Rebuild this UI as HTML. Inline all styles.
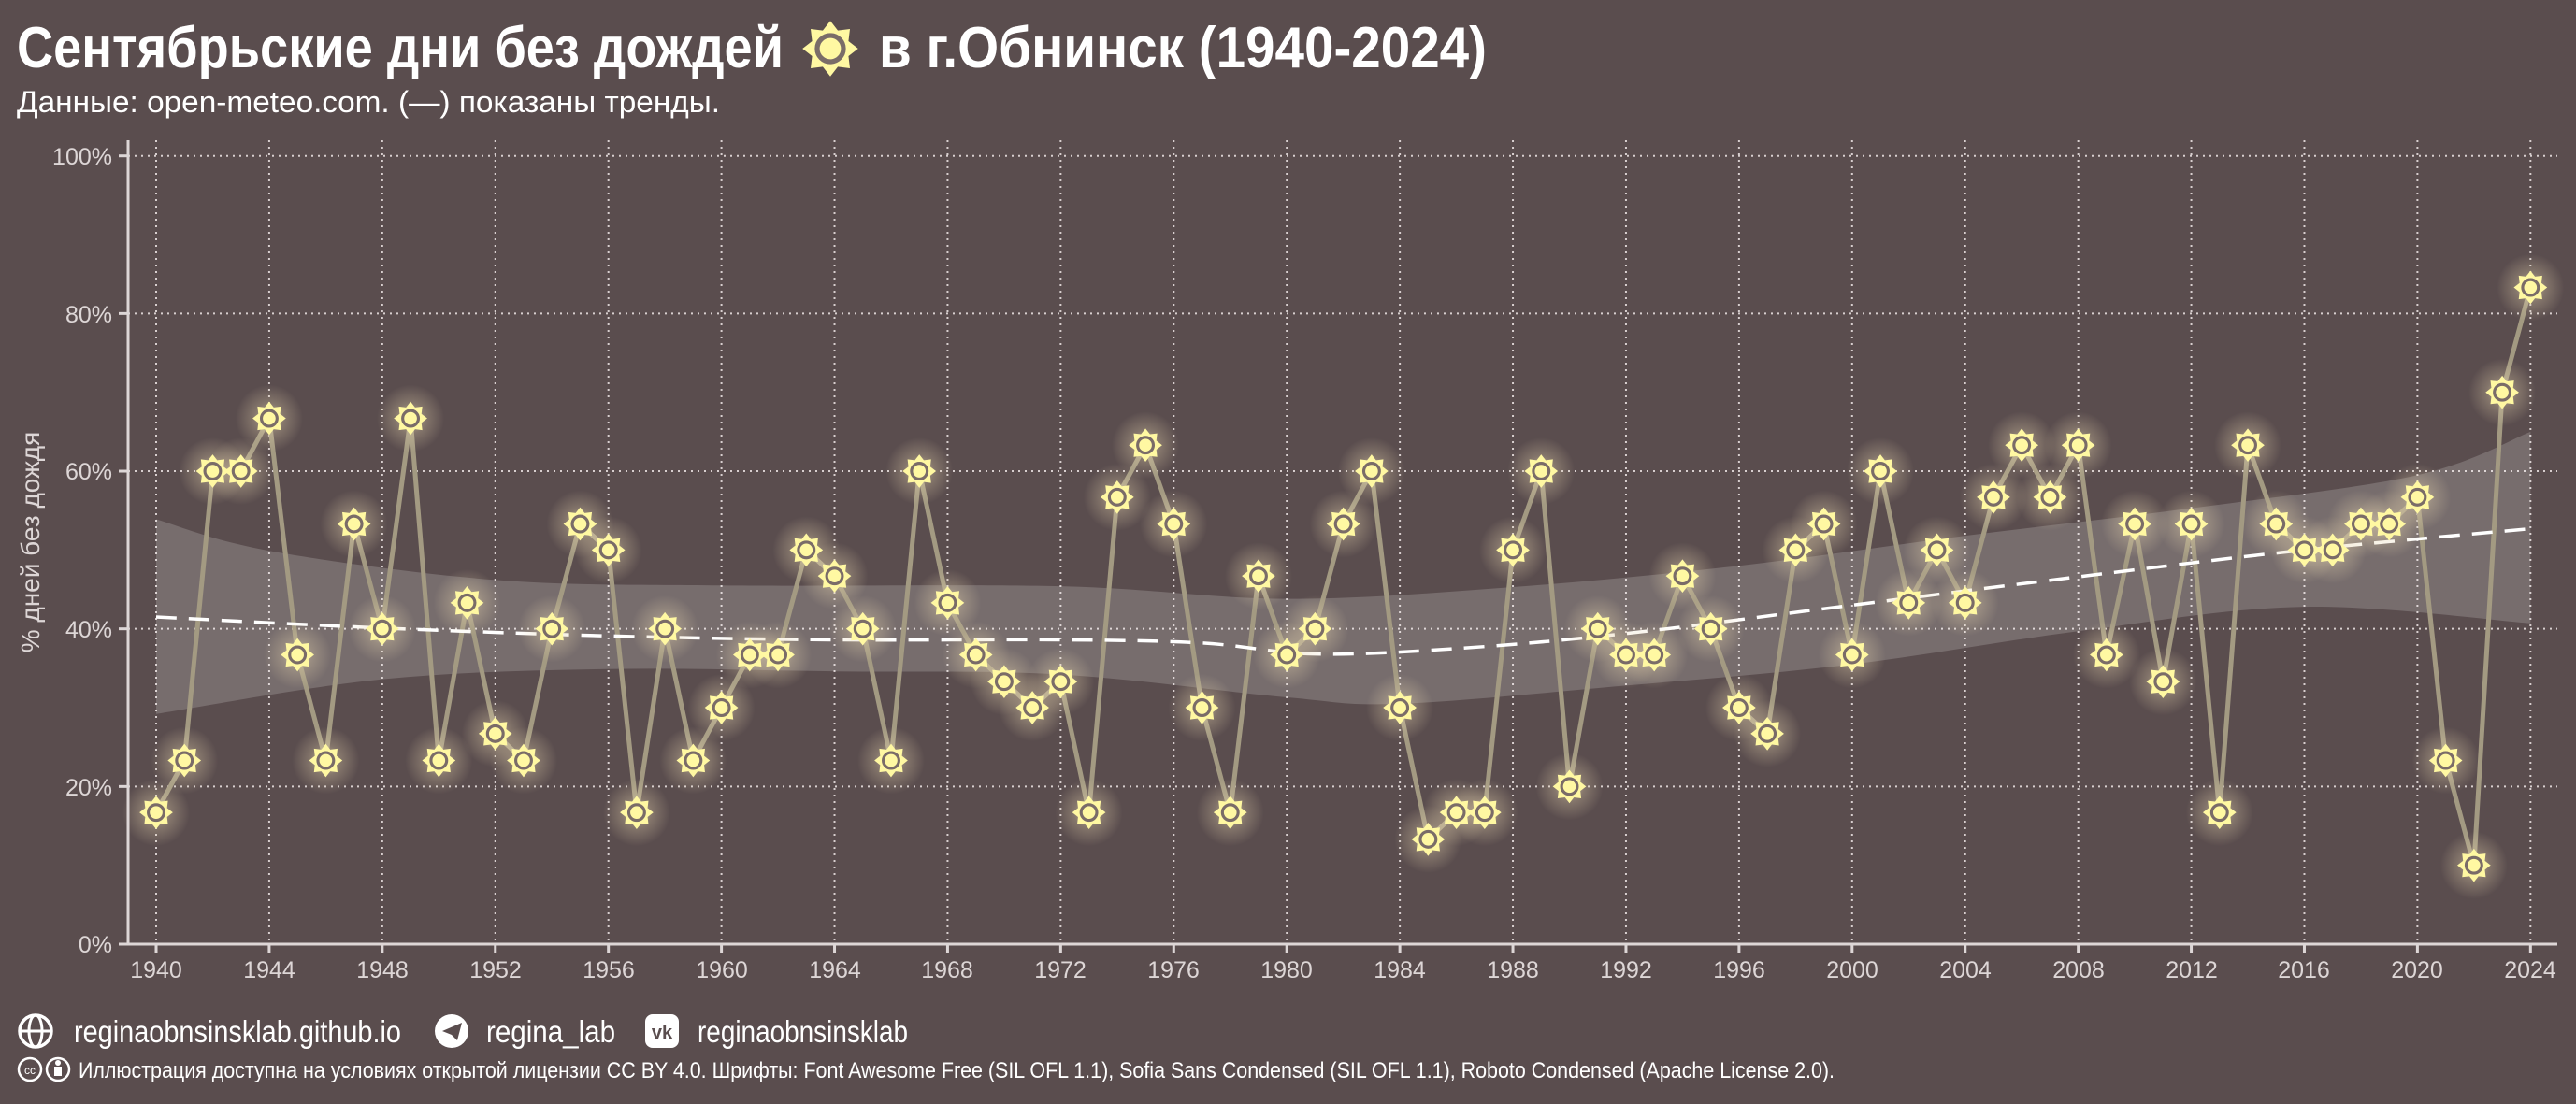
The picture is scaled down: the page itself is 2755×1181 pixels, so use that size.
<!DOCTYPE html>
<html><head><meta charset="utf-8"><style>
html,body{margin:0;padding:0;background:#5a4d4e;}
svg{display:block}
text{font-family:"Liberation Sans Narrow","Liberation Sans","Noto Sans CJK SC",sans-serif;}
</style></head><body>
<svg id="s" width="2755" height="1181" viewBox="0 0 2755 1181" xmlns="http://www.w3.org/2000/svg">
<defs>
<radialGradient id="glow"><stop offset="0" stop-color="#fff3c8" stop-opacity="0.7"/><stop offset="0.45" stop-color="#e8d6b0" stop-opacity="0.3"/><stop offset="1" stop-color="#e8d6b0" stop-opacity="0"/></radialGradient>
<g id="sun"><polygon points="0,-17 4.6,-11.1 12,-12 11.1,-4.6 17,0 11.1,4.6 12,12 4.6,11.1 0,17 -4.6,11.1 -12,12 -11.1,4.6 -17,0 -11.1,-4.6 -12,-12 -4.6,-11.1" fill="#fff8a2"/><circle r="8" fill="#fff8a2" stroke="#7a6c68" stroke-width="3"/></g>
</defs>
<rect width="2755" height="1181" fill="#5a4d4e"/>
<g id="grid"></g>
<g id="band"></g>
<g id="series"></g>
<line x1="137" y1="150" x2="137" y2="1010" stroke="#ddd6d6" stroke-width="3"/>
<line x1="137" y1="1010" x2="2735" y2="1010" stroke="#ddd6d6" stroke-width="3"/>
<g font-size="25" fill="#ddd6d6" text-anchor="end">
<text x="120" y="176">100%</text><text x="120" y="345">80%</text><text x="120" y="513">60%</text><text x="120" y="682">40%</text><text x="120" y="851">20%</text><text x="120" y="1019">0%</text>
</g>
<g font-size="25" fill="#ddd6d6" text-anchor="middle">
<text x="167" y="1046">1940</text><text x="288" y="1046">1944</text><text x="409" y="1046">1948</text><text x="530" y="1046">1952</text><text x="651" y="1046">1956</text><text x="772" y="1046">1960</text><text x="893" y="1046">1964</text><text x="1013" y="1046">1968</text><text x="1134" y="1046">1972</text><text x="1255" y="1046">1976</text><text x="1376" y="1046">1980</text><text x="1497" y="1046">1984</text><text x="1618" y="1046">1988</text><text x="1739" y="1046">1992</text><text x="1860" y="1046">1996</text><text x="1981" y="1046">2000</text><text x="2102" y="1046">2004</text><text x="2223" y="1046">2008</text><text x="2344" y="1046">2012</text><text x="2464" y="1046">2016</text><text x="2585" y="1046">2020</text><text x="2706" y="1046">2024</text>
</g>
<text transform="translate(42,580) rotate(-90)" font-size="28" fill="#ddd6d6" text-anchor="middle">% дней без дождя</text>
<text x="18" y="72" font-size="62" font-weight="bold" fill="#ffffff" textLength="820" lengthAdjust="spacingAndGlyphs">Сентябрьские дни без дождей</text>
<use href="#sun" transform="translate(888,52) scale(1.75)"/>
<text x="940" y="72" font-size="62" font-weight="bold" fill="#ffffff" textLength="650" lengthAdjust="spacingAndGlyphs">в г.Обнинск (1940-2024)</text>
<text x="18" y="120" font-size="32" fill="#ffffff" textLength="752" lengthAdjust="spacingAndGlyphs">Данные: open-meteo.com. (—) показаны тренды.</text>
<g fill="#ffffff">
<circle cx="38" cy="1103" r="17" fill="none" stroke="#fff" stroke-width="3.5"/>
<ellipse cx="38" cy="1103" rx="7" ry="17" fill="none" stroke="#fff" stroke-width="3"/>
<line x1="21" y1="1103" x2="55" y2="1103" stroke="#fff" stroke-width="3"/>
<text x="79" y="1115" font-size="33" textLength="350" lengthAdjust="spacingAndGlyphs">reginaobnsinsklab.github.io</text>
<circle cx="483" cy="1103" r="18"/>
<polygon points="473,1103 494,1094 489,1113 483,1107" fill="#5a4d4e"/>
<text x="520" y="1115" font-size="33" textLength="138" lengthAdjust="spacingAndGlyphs">regina_lab</text>
<rect x="690" y="1085" width="36" height="36" rx="8"/>
<text x="708" y="1111" font-size="20" font-weight="bold" fill="#5a4d4e" text-anchor="middle">vk</text>
<text x="746" y="1115" font-size="33" textLength="225" lengthAdjust="spacingAndGlyphs">reginaobnsinsklab</text>
<circle cx="32" cy="1144" r="12" fill="none" stroke="#fff" stroke-width="2.5"/>
<text x="32" y="1149" font-size="12" text-anchor="middle">cc</text>
<circle cx="62" cy="1144" r="12" fill="none" stroke="#fff" stroke-width="2.5"/>
<circle cx="62" cy="1137" r="3"/><rect x="58" y="1141" width="8" height="10"/>
<text x="84" y="1153" font-size="24" textLength="1878" lengthAdjust="spacingAndGlyphs">Иллюстрация доступна на условиях открытой лицензии CC BY 4.0.  Шрифты: Font Awesome Free (SIL OFL 1.1), Sofia Sans Condensed (SIL OFL 1.1), Roboto Condensed (Apache License 2.0).</text>
</g>
</svg>
<script>
(function(){
var NS="http://www.w3.org/2000/svg";
function X(yr){return 167+(yr-1940)*30.23;}
function Y(v){return 1010-v*8.433;}
function el(p,n,a){var e=document.createElementNS(NS,n);for(var k in a)e.setAttribute(k,a[k]);p.appendChild(e);return e;}
var grid=document.getElementById('grid');
for(var v=20;v<=100;v+=20)el(grid,'line',{x1:137,x2:2735,y1:Y(v),y2:Y(v),stroke:'#d8cfcf','stroke-width':2,'stroke-dasharray':'2 5'});
for(var yr=1940;yr<=2024;yr+=4){el(grid,'line',{x1:X(yr),x2:X(yr),y1:150,y2:1010,stroke:'#d8cfcf','stroke-width':2,'stroke-dasharray':'2 5'});el(grid,'line',{x1:X(yr),x2:X(yr),y1:1010,y2:1020,stroke:'#ddd6d6','stroke-width':3});}
[0,20,40,60,80,100].forEach(function(v){el(grid,'line',{x1:127,x2:137,y1:Y(v),y2:Y(v),stroke:'#ddd6d6','stroke-width':3});});
var data=[16.7,23.3,60,60,66.7,36.7,23.3,53.3,40,66.7,23.3,43.3,26.7,23.3,40,53.3,50,16.7,40,23.3,30,36.7,36.7,50,46.7,40,23.3,60,43.3,36.7,33.3,30,33.3,16.7,56.7,63.3,53.3,30,16.7,46.7,36.7,40,53.3,60,30,13.3,16.7,16.7,50,60,20,40,36.7,36.7,46.7,40,30,26.7,50,53.3,36.7,60,43.3,50,43.3,56.7,63.3,56.7,63.3,36.7,53.3,33.3,53.3,16.7,63.3,53.3,50,50,53.3,53.3,56.7,23.3,10,70,83.3];
var up=[[1940,53.9],[1944,49.9],[1952,46.2],[1960,45.5],[1972,45.4],[1980,43.8],[1988,45.3],[1996,48],[2004,51.8],[2012,55.3],[2020,59.5],[2024,65]];
var lo=[[1940,29.2],[1948,33.6],[1956,34.9],[1964,34.6],[1972,34.2],[1980,31.3],[1984,30.5],[1992,32.8],[2000,35.5],[2008,39.7],[2016,42.8],[2024,40.7]];
var tr=[[1940,41.5],[1948,40.1],[1956,39.1],[1964,38.6],[1972,38.6],[1977,38.2],[1981,36.8],[1986,37.5],[1992,39.4],[2000,43],[2008,46.6],[2016,50],[2024,52.7]];
function catmull(pts){var P=pts.map(function(p){return [X(p[0]),Y(p[1])];});var s='M'+P[0][0]+','+P[0][1];
for(var i=0;i<P.length-1;i++){var p0=P[i-1]||P[i],p1=P[i],p2=P[i+1],p3=P[i+2]||P[i+1];
s+=' C'+(p1[0]+(p2[0]-p0[0])/6)+','+(p1[1]+(p2[1]-p0[1])/6)+' '+(p2[0]-(p3[0]-p1[0])/6)+','+(p2[1]-(p3[1]-p1[1])/6)+' '+p2[0]+','+p2[1];}return s;}
var band=document.getElementById('band');
var lr=lo.slice().reverse();
var d=catmull(up)+' L'+X(lr[0][0])+','+Y(lr[0][1])+catmull(lr).replace(/^M[^ ]+/,'');
el(band,'path',{d:d+'Z',fill:'#ffffff','fill-opacity':0.18});
var s=document.getElementById('series');
var pts=data.map(function(v,i){return X(1940+i)+','+Y(v);}).join(' ');
el(s,'polyline',{points:pts,fill:'none',stroke:'#a39a82','stroke-width':5,'stroke-linejoin':'round'});
el(s,'path',{d:catmull(tr),fill:'none',stroke:'#ffffff','stroke-width':3.5,'stroke-dasharray':'22 13'});
data.forEach(function(v,i){el(s,'circle',{cx:X(1940+i),cy:Y(v),r:36,fill:'url(#glow)'});});
data.forEach(function(v,i){el(s,'use',{href:'#sun',transform:'translate('+X(1940+i)+','+Y(v)+') scale(1.05)'});});
})();
</script>
</body></html>
